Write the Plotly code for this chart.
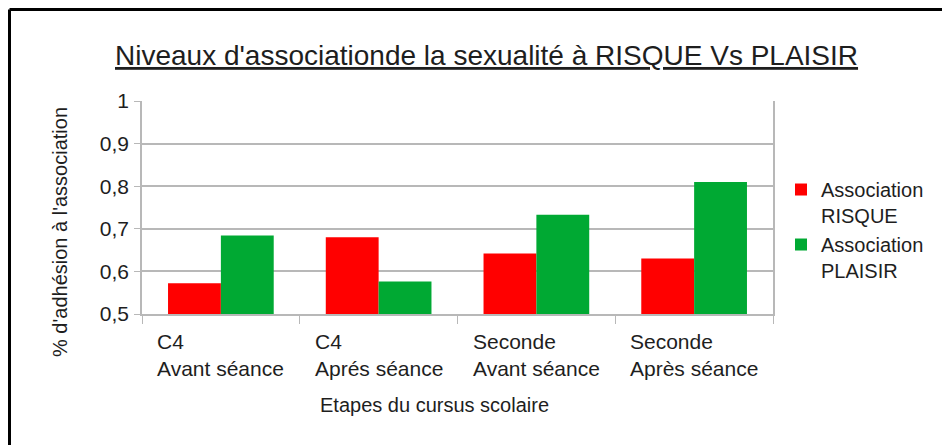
import plotly.graph_objects as go

categories = ["C4 Avant", "C4 Après", "Seconde Avant", "Seconde Après"]
tick_labels = ["C4<br>Avant séance", "C4<br>Aprés séance",
               "Seconde<br>Avant séance", "Seconde<br>Après séance"]
risque = [0.572, 0.68, 0.642, 0.63]
plaisir = [0.684, 0.576, 0.733, 0.81]

txt = "#1e1e1e"
grid = "#b8b8b8"

fig = go.Figure()
fig.add_bar(x=categories, y=risque, name="Association<br>RISQUE",
            marker=dict(color="#ff0000", line=dict(width=0)))
fig.add_bar(x=categories, y=plaisir, name="Association<br>PLAISIR",
            marker=dict(color="#00a933", line=dict(width=0)))

# left-aligned two-line category labels
annotations = []
for cat, lab in zip(categories, tick_labels):
    annotations.append(dict(x=cat, xref="x", y=-0.064, yref="paper", yanchor="top",
                            text=lab, align="left", showarrow=False,
                            font=dict(size=21, color=txt)))
annotations.append(dict(x=0.463, xref="paper", y=-0.427, yref="paper",
                        xanchor="center", yanchor="middle",
                        text="Etapes du cursus scolaire", showarrow=False,
                        font=dict(size=20, color=txt)))
annotations.append(dict(x=-0.13, xref="paper", y=0.385, yref="paper",
                        xanchor="center", yanchor="middle",
                        text="% d'adhésion à l'association", textangle=-90,
                        showarrow=False, font=dict(size=20, color=txt)))

# frame: top and left edges only
x_left = (1.5 - 134) / 631
y_top = (306 - 1.5) / 213
frame = [
    dict(type="line", xref="paper", yref="paper", x0=x_left, x1=1.5, y0=y_top, y1=y_top,
         line=dict(color="black", width=3)),
    dict(type="line", xref="paper", yref="paper", x0=x_left, x1=x_left, y0=-1, y1=y_top,
         line=dict(color="black", width=3)),
]

fig.update_layout(
    width=942, height=437,
    margin=dict(l=134, r=177, t=93, b=131),
    paper_bgcolor="white", plot_bgcolor="white",
    font=dict(family="Liberation Sans, Arial, sans-serif", color=txt),
    separators=", ",
    title=dict(text="<u>Niveaux d'associationde la sexualité à RISQUE Vs PLAISIR</u>",
               x=0.508, xanchor="center", y=0.892, yanchor="middle",
               font=dict(size=28, color=txt)),
    barmode="group", bargap=0.33, bargroupgap=0,
    showlegend=True,
    legend=dict(x=1.0127, xanchor="left", y=0.676, yanchor="top",
                valign="top", font=dict(size=20, color=txt),
                bgcolor="rgba(0,0,0,0)"),
    annotations=annotations,
    shapes=frame,
)
fig.update_xaxes(type="category", range=[-0.5, 3.5], showticklabels=False,
                 ticks="outside", tickson="boundaries", ticklen=8,
                 tickcolor=grid, showline=True, linecolor=grid, linewidth=1.5,
                 showgrid=False)
fig.update_yaxes(range=[0.5, 1], dtick=0.1, ticks="outside", ticklen=6,
                 tickcolor=grid, showline=True, linecolor=grid, linewidth=1.5,
                 mirror=True, showgrid=True, gridcolor=grid, gridwidth=1.5,
                 zeroline=False, ticklabelstandoff=1,
                 tickfont=dict(size=21, color=txt))

fig.write_html("out.html")
